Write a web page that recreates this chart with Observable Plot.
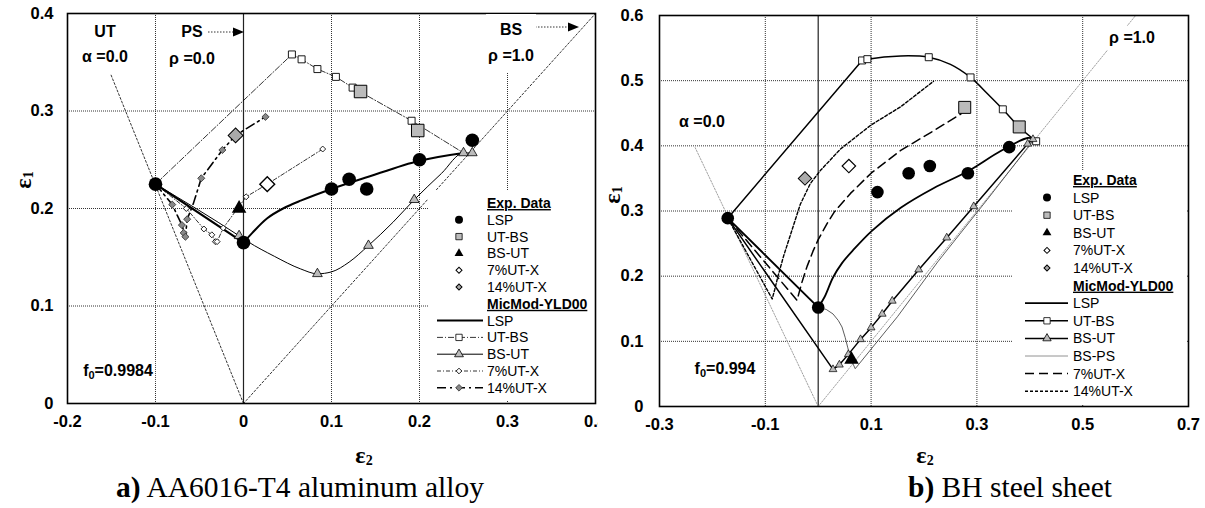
<!DOCTYPE html>
<html><head><meta charset="utf-8">
<script src="https://cdn.jsdelivr.net/npm/d3@7"></script>
<script src="https://cdn.jsdelivr.net/npm/@observablehq/plot@0.6"></script>
<style>
body{margin:0;background:#fff;}
#wrap{position:relative;width:1205px;height:508px;overflow:hidden;background:#fff;font-family:"Liberation Sans",Arial,sans-serif;}
.panel{position:absolute;top:0;}
.lbl{position:absolute;transform:translate(-50%,-50%);background:#fff;font-weight:bold;font-size:16px;color:#000;text-align:center;white-space:nowrap;padding:3px 2px;}
.lbl sub{font-size:11px;vertical-align:-3px;line-height:0;}
.axl{position:absolute;transform:translate(-50%,-50%);font-family:"Liberation Serif","Times New Roman",serif;font-weight:bold;font-size:24px;white-space:nowrap;line-height:1;}
.axl sub{font-size:14px;vertical-align:-2px;line-height:0;}
.cap{position:absolute;transform:translate(-50%,-50%);font-family:"Liberation Serif","Times New Roman",serif;font-size:29.5px;white-space:nowrap;}
</style></head><body><div id="wrap"></div><script>
// ---------------- Panel a) AA6016-T4 ----------------
const L_xTicks = [-0.2, -0.1, 0, 0.1, 0.2, 0.3, 0.4];
const L_yTicks = [0, 0.1, 0.2, 0.3, 0.4];
const L_xGrid = [-0.1, 0.1, 0.2, 0.3];
const L_yGrid = [0.1, 0.2, 0.3];
// reference strain paths
const L_utPath = [[0, 0], [-0.151, 0.338]];
const L_bsPath = [[0, 0], [0.4, 0.4]];
// experimental data
const L_exp_LSP = [[-0.1, 0.225], [0, 0.165], [0.1, 0.22], [0.12, 0.23], [0.14, 0.22], [0.2, 0.25], [0.26, 0.27]];
const L_exp_UTBS = [[0.133, 0.32], [0.198, 0.28]];
const L_exp_BSUT = [[-0.005, 0.2]];
const L_exp_7 = [[0.027, 0.225]];
const L_exp_14 = [[-0.009, 0.275]];
// MicMod-YLD00 predictions
const L_mod_LSP_a = [[-0.1, 0.225], [0, 0.165]];
const L_mod_LSP_b = [[0, 0.165], [0.01, 0.175], [0.027, 0.19], [0.045, 0.2], [0.065, 0.208], [0.1, 0.22], [0.14, 0.232], [0.2, 0.249], [0.25, 0.257]];
const L_mod_UTBS = [[-0.1, 0.225], [0.055, 0.358], [0.066, 0.353], [0.084, 0.343], [0.105, 0.335], [0.124, 0.324], [0.191, 0.29], [0.25, 0.257]];
const L_mod_BSUT = [[-0.1, 0.225], [-0.005, 0.172], [0.005, 0.166], [0.035, 0.151], [0.065, 0.138], [0.084, 0.133], [0.1, 0.135], [0.12, 0.145], [0.142, 0.162], [0.17, 0.186], [0.194, 0.209], [0.225, 0.236], [0.25, 0.257], [0.26, 0.257]];
const L_mod_BSUT_marks = [[-0.005, 0.172], [0.084, 0.133], [0.142, 0.162], [0.194, 0.209], [0.25, 0.257], [0.26, 0.257]];
const L_mod_7 = [[-0.1, 0.225], [-0.065, 0.2], [-0.045, 0.179], [-0.036, 0.173], [-0.032, 0.166], [-0.03, 0.166], [-0.023, 0.18], [0.003, 0.212], [0.027, 0.225], [0.09, 0.261]];
const L_mod_7_marks = [[-0.065, 0.2], [-0.045, 0.179], [-0.036, 0.173], [-0.032, 0.166], [-0.03, 0.166], [-0.023, 0.18], [0.003, 0.212], [0.09, 0.261]];
const L_mod_14 = [[-0.1, 0.225], [-0.081, 0.204], [-0.07, 0.183], [-0.066, 0.171], [-0.064, 0.189], [-0.057, 0.205], [-0.048, 0.231], [-0.024, 0.26], [-0.009, 0.275], [0.025, 0.294]];
const L_mod_14_marks = [[-0.081, 0.204], [-0.07, 0.183], [-0.068, 0.175], [-0.066, 0.171], [-0.064, 0.189], [-0.048, 0.231], [-0.024, 0.26], [0.025, 0.294]];

// ---------------- Panel b) BH steel ----------------
const R_xTicks = [-0.3, -0.1, 0.1, 0.3, 0.5, 0.7];
const R_yTicks = [0, 0.1, 0.2, 0.3, 0.4, 0.5, 0.6];
const R_xGrid = [-0.1, 0.1, 0.3, 0.5];
const R_yGrid = [0.1, 0.2, 0.3, 0.4, 0.5];
const R_alphaPath = [[0, 0], [-0.233, 0.398]];
const R_rhoPath = [[0, 0], [0.6, 0.6]];
const R_exp_LSP = [[-0.171, 0.289], [0, 0.152], [0.112, 0.329], [0.171, 0.358], [0.211, 0.369], [0.283, 0.358], [0.361, 0.398]];
const R_exp_UTBS = [[0.277, 0.459], [0.38, 0.429]];
const R_exp_BSUT = [[0.063, 0.072]];
const R_exp_7 = [[0.058, 0.369]];
const R_exp_14 = [[-0.025, 0.35]];
const R_mod_LSP_a = [[-0.171, 0.289], [0, 0.152]];
const R_mod_LSP_b = [[0, 0.152], [0.012, 0.168], [0.028, 0.198], [0.045, 0.22], [0.066, 0.24], [0.102, 0.27], [0.156, 0.305], [0.218, 0.335], [0.283, 0.361], [0.345, 0.392], [0.396, 0.412], [0.408, 0.41]];
const R_mod_UTBS_a = [[-0.171, 0.289], [0.083, 0.531]];
const R_mod_UTBS_b = [[0.083, 0.531], [0.093, 0.533], [0.156, 0.538], [0.209, 0.536], [0.25, 0.525], [0.288, 0.505], [0.32, 0.48], [0.349, 0.456], [0.38, 0.429], [0.412, 0.407]];
const R_mod_UTBS_marks = [[0.083, 0.531], [0.093, 0.533], [0.209, 0.536], [0.288, 0.505], [0.349, 0.456], [0.412, 0.407]];
const R_mod_BSUT = [[-0.171, 0.289], [0.028, 0.057], [0.04, 0.064], [0.057, 0.08], [0.08, 0.103], [0.1, 0.121], [0.121, 0.142], [0.14, 0.162], [0.19, 0.21], [0.243, 0.259], [0.294, 0.307], [0.396, 0.403], [0.406, 0.41]];
const R_mod_BSPS = [[0, 0.152], [0.015, 0.149], [0.028, 0.142], [0.038, 0.132], [0.045, 0.122], [0.051, 0.106], [0.056, 0.09], [0.062, 0.072], [0.07, 0.058], [0.15, 0.138], [0.226, 0.222], [0.32, 0.318], [0.408, 0.41]];
const R_mod_7 = [[-0.171, 0.289], [-0.04, 0.163], [-0.031, 0.19], [-0.021, 0.215], [-0.01, 0.238], [0, 0.256], [0.017, 0.281], [0.03, 0.298], [0.061, 0.327], [0.1, 0.358], [0.156, 0.393], [0.218, 0.423], [0.27, 0.449]];
const R_mod_14 = [[-0.171, 0.289], [-0.087, 0.165], [-0.082, 0.18], [-0.076, 0.2], [-0.065, 0.232], [-0.053, 0.262], [-0.034, 0.31], [-0.015, 0.342], [0.004, 0.362], [0.042, 0.395], [0.1, 0.432], [0.156, 0.46], [0.218, 0.499]];

// legend entries
const L_legendExp = ["LSP", "UT-BS", "BS-UT", "7%UT-X", "14%UT-X"];
const L_legendMod = ["LSP", "UT-BS", "BS-UT", "7%UT-X", "14%UT-X"];
const R_legendExp = ["LSP", "UT-BS", "BS-UT", "7%UT-X", "14%UT-X"];
const R_legendMod = ["LSP", "UT-BS", "BS-UT", "BS-PS", "7%UT-X", "14%UT-X"];

// ------------------------------------------------------------------
const wrap = document.getElementById("wrap");
const fmt = d => d === 0 ? "0" : d.toFixed(1);
const SQ = Math.sqrt(Math.PI);

function panel(o) {
  return Plot.plot({
    width: o.width, height: o.height,
    marginLeft: o.ml, marginRight: o.mr, marginTop: o.mt, marginBottom: o.mb,
    x: {domain: o.xd}, y: {domain: o.yd},
    style: {fontFamily: "'Liberation Sans', Arial, sans-serif", fontSize: "16.5px", fontWeight: "bold", background: "white", color: "black"},
    marks: [
      Plot.gridX(o.xg, {stroke: "#333", strokeOpacity: 1, strokeWidth: 1, strokeDasharray: "1,1"}),
      Plot.gridY(o.yg, {stroke: "#333", strokeOpacity: 1, strokeWidth: 1, strokeDasharray: "1,1"}),
      Plot.ruleX([0], {stroke: "#222", strokeWidth: 1.2}),
      ...o.marks,
      Plot.frame({stroke: "#000", strokeWidth: 1.6}),
      Plot.axisX(o.xt, {tickSize: 0, tickPadding: o.xpad, tickFormat: fmt, label: null}),
      Plot.axisY(o.yt, {tickSize: 0, tickPadding: o.ypad, tickFormat: fmt, label: null})
    ]
  });
}

const leftPlot = panel({
  width: 600, height: 440, ml: 67, mr: 5, mt: 13, mb: 37,
  xd: [-0.2, 0.4], yd: [0, 0.4], xt: L_xTicks, yt: L_yTicks, xg: L_xGrid, yg: L_yGrid, xpad: 12, ypad: 14,
  marks: [
    Plot.line(L_utPath, {stroke: "#000", strokeWidth: 0.8, strokeDasharray: "2,2"}),
    Plot.line(L_bsPath, {stroke: "#000", strokeWidth: 0.8, strokeDasharray: "2,2"}),
    Plot.line(L_mod_UTBS, {stroke: "#000", strokeWidth: 0.8, strokeDasharray: "6,2,1,2"}),
    Plot.line(L_mod_7, {stroke: "#000", strokeWidth: 0.8, strokeDasharray: "4,2,1,2"}),
    Plot.line(L_mod_14, {stroke: "#000", strokeWidth: 1.6, strokeDasharray: "9,4,2,4"}),
    Plot.line(L_mod_BSUT, {stroke: "#000", strokeWidth: 1, curve: "monotone-x"}),
    Plot.line(L_mod_LSP_a, {stroke: "#000", strokeWidth: 2.3}),
    Plot.line(L_mod_LSP_b, {stroke: "#000", strokeWidth: 2, curve: "catmull-rom"}),
    Plot.dot(L_mod_UTBS.slice(1, -1), {symbol: "square", r: 7 / SQ, fill: "white", stroke: "black", strokeWidth: 0.9}),
    Plot.dot(L_mod_BSUT_marks, {symbol: "triangle", r: 3.6, fill: "#bbb", stroke: "black", strokeWidth: 0.8}),
    Plot.dot(L_mod_7_marks, {symbol: "square", rotate: 45, r: 4.2 / SQ, fill: "white", stroke: "black", strokeWidth: 0.8}),
    Plot.dot(L_mod_14_marks, {symbol: "square", rotate: 45, r: 5 / SQ, fill: "#888", stroke: "#333", strokeWidth: 0.8}),
    Plot.dot(L_exp_UTBS, {symbol: "square", r: 12.5 / SQ, fill: "#bbb", stroke: "black", strokeWidth: 1}),
    Plot.dot(L_exp_7, {symbol: "square", rotate: 45, r: 10.5 / SQ, fill: "white", stroke: "black", strokeWidth: 1.4}),
    Plot.dot(L_exp_14, {symbol: "square", rotate: 45, r: 10.5 / SQ, fill: "#aaa", stroke: "black", strokeWidth: 1}),
    Plot.dot(L_exp_BSUT, {symbol: "triangle", r: 5.4, fill: "black"}),
    Plot.dot(L_exp_LSP, {r: 6.8, fill: "black"})
  ]
});
leftPlot.classList.add("panel"); leftPlot.style.left = "0px";
wrap.appendChild(leftPlot);

const rightPlot = panel({
  width: 607, height: 440, ml: 61, mr: 17, mt: 15, mb: 34,
  xd: [-0.3, 0.7], yd: [0, 0.6], xt: R_xTicks, yt: R_yTicks, xg: R_xGrid, yg: R_yGrid, xpad: 12, ypad: 16,
  marks: [
    Plot.line(R_alphaPath, {stroke: "#888", strokeWidth: 0.8, strokeDasharray: "1.5,1.5"}),
    Plot.line(R_rhoPath, {stroke: "#888", strokeWidth: 0.8, strokeDasharray: "1.5,1.5"}),
    Plot.line(R_mod_BSPS, {stroke: "#333", strokeWidth: 0.8, curve: "linear"}),
    Plot.line(R_mod_14, {stroke: "#000", strokeWidth: 1.4, strokeDasharray: "3,2"}),
    Plot.line(R_mod_7, {stroke: "#000", strokeWidth: 1.5, strokeDasharray: "9,5"}),
    Plot.line(R_mod_BSUT, {stroke: "#000", strokeWidth: 1.5}),
    Plot.line(R_mod_UTBS_a, {stroke: "#000", strokeWidth: 1.5}),
    Plot.line(R_mod_UTBS_b, {stroke: "#000", strokeWidth: 1.5, curve: "catmull-rom"}),
    Plot.line(R_mod_LSP_a, {stroke: "#000", strokeWidth: 1.9}),
    Plot.line(R_mod_LSP_b, {stroke: "#000", strokeWidth: 1.8, curve: "catmull-rom"}),
    Plot.dot(R_mod_UTBS_marks, {symbol: "square", r: 7 / SQ, fill: "white", stroke: "black", strokeWidth: 0.9}),
    Plot.dot(R_mod_BSUT.slice(1), {symbol: "triangle", r: 2.9, fill: "#bbb", stroke: "black", strokeWidth: 0.7}),
    Plot.dot(R_exp_UTBS, {symbol: "square", r: 12 / SQ, fill: "#bbb", stroke: "black", strokeWidth: 1}),
    Plot.dot(R_exp_7, {symbol: "square", rotate: 45, r: 9.5 / SQ, fill: "white", stroke: "black", strokeWidth: 1.2}),
    Plot.dot(R_exp_14, {symbol: "square", rotate: 45, r: 9.5 / SQ, fill: "#aaa", stroke: "black", strokeWidth: 1}),
    Plot.dot(R_exp_BSUT, {symbol: "triangle", r: 5.4, fill: "black"}),
    Plot.dot(R_exp_LSP, {r: 6.3, fill: "black"})
  ]
});
rightPlot.classList.add("panel"); rightPlot.style.left = "598px";
wrap.appendChild(rightPlot);

// ---------------- overlay: legends and arrows ----------------
const ov = d3.select(wrap).append("svg")
  .attr("width", 1205).attr("height", 508)
  .style("position", "absolute").style("left", 0).style("top", 0)
  .style("font-family", "'Liberation Sans', Arial, sans-serif");

function sym(g, s, x, y) {
  const t = {circle: d3.symbolCircle, square: d3.symbolSquare, triangle: d3.symbolTriangle, diamond: d3.symbolSquare}[s.type];
  g.append("path").attr("d", d3.symbol().type(t).size(s.size)())
    .attr("transform", `translate(${x},${y})` + (s.type === "diamond" ? " rotate(45)" : ""))
    .attr("fill", s.fill).attr("stroke", s.stroke || "none").attr("stroke-width", s.sw || 0.8);
}

function legend(o) {
  const g = ov.append("g");
  g.append("rect").attr("x", o.box[0]).attr("y", o.box[1]).attr("width", o.box[2] - o.box[0]).attr("height", o.box[3] - o.box[1]).attr("fill", "white");
  o.rows.forEach(r => {
    const t = g.append("text").attr("x", o.tx).attr("y", r.y).attr("dy", "0.36em")
      .attr("font-size", 14).text(r.text);
    if (r.header) t.attr("font-weight", "bold").attr("text-decoration", "underline");
    if (r.line) g.append("line").attr("x1", o.l0).attr("x2", o.l1).attr("y1", r.y).attr("y2", r.y)
      .attr("stroke", r.line.c || "#000").attr("stroke-width", r.line.w).attr("stroke-dasharray", r.line.dash || null);
    if (r.sym) sym(g, r.sym, o.mx, r.y);
  });
}

const expSyms = [
  {type: "circle", size: 50, fill: "#000"},
  {type: "square", size: 40, fill: "#bbb", stroke: "#000"},
  {type: "triangle", size: 34, fill: "#000"},
  {type: "diamond", size: 18, fill: "#fff", stroke: "#000", sw: 1},
  {type: "diamond", size: 18, fill: "#aaa", stroke: "#000", sw: 1}
];
const L_modStyles = [
  {line: {w: 2}},
  {line: {w: 0.8, dash: "6,2,1,2"}, sym: {type: "square", size: 40, fill: "#fff", stroke: "#000"}},
  {line: {w: 1}, sym: {type: "triangle", size: 34, fill: "#bbb", stroke: "#000"}},
  {line: {w: 0.8, dash: "4,2,1,2"}, sym: {type: "diamond", size: 16, fill: "#fff", stroke: "#000"}},
  {line: {w: 1.6, dash: "9,4,2,4"}, sym: {type: "diamond", size: 22, fill: "#888", stroke: "#333"}}
];
const R_modStyles = [
  {line: {w: 1.8}},
  {line: {w: 1.5}, sym: {type: "square", size: 40, fill: "#fff", stroke: "#000"}},
  {line: {w: 1.5}, sym: {type: "triangle", size: 30, fill: "#bbb", stroke: "#000"}},
  {line: {w: 0.8, c: "#777"}},
  {line: {w: 1.5, dash: "9,5"}},
  {line: {w: 1.4, dash: "3,2"}}
];

function buildRows(y0, step, exp, mod, modStyles) {
  const rows = [{y: y0, text: "Exp. Data", header: true}];
  exp.forEach((t, i) => rows.push({y: y0 + step * (i + 1), text: t, sym: expSyms[i]}));
  const y1 = y0 + step * (exp.length + 1);
  rows.push({y: y1, text: "MicMod-YLD00", header: true});
  mod.forEach((t, i) => rows.push({y: y1 + step * (i + 1), text: t, ...modStyles[i]}));
  return rows;
}

legend({box: [428, 190, 594, 401], tx: 487, mx: 459, l0: 437, l1: 483,
  rows: buildRows(203, 16.8, L_legendExp, L_legendMod, L_modStyles)});
legend({box: [1013, 170, 1187, 404], tx: 1073, mx: 1047, l0: 1025, l1: 1068,
  rows: buildRows(180, 17.6, R_legendExp, R_legendMod, R_modStyles)});

// arrows (PS and BS)
[[208, 233, 32], [535, 568, 27]].forEach(([a, b, y]) => {
  ov.append("line").attr("x1", a).attr("x2", b).attr("y1", y).attr("y2", y)
    .attr("stroke", "#000").attr("stroke-width", 0.8).attr("stroke-dasharray", "1.5,1.5");
  ov.append("path").attr("d", `M${b},${y - 4.5}L${b + 11},${y}L${b},${y + 4.5}Z`).attr("fill", "#000");
});

// ---------------- text labels ----------------
function put(cls, html, cx, cy) {
  const d = document.createElement("div");
  d.className = cls; d.innerHTML = html;
  d.style.left = cx + "px"; d.style.top = cy + "px";
  wrap.appendChild(d);
  return d;
}
put("lbl", "UT<br>α =0.0", 105, 44).style.lineHeight = "25px";
put("lbl", "PS", 192, 32);
put("lbl", "ρ =0.0", 192, 59);
put("lbl", "BS<br>ρ =1.0", 511, 43).style.lineHeight = "26px";
put("lbl", "f<sub>0</sub>=0.9984", 118, 371);
put("lbl", "α =0.0", 702, 122);
put("lbl", "ρ =1.0", 1132, 38);
put("lbl", "f<sub>0</sub>=0.994", 725, 369);
const yl1 = put("axl", "ε<sub>1</sub>", 23, 180); yl1.style.transform = "translate(-50%,-50%) rotate(-90deg)";
const yl2 = put("axl", "ε<sub>1</sub>", 612, 195); yl2.style.transform = "translate(-50%,-50%) rotate(-90deg)";
put("axl", "ε<sub>2</sub>", 364, 455);
put("axl", "ε<sub>2</sub>", 925, 455);
put("cap", "<b>a)</b> AA6016-T4 aluminum alloy", 300, 487);
put("cap", "<b>b)</b> BH steel sheet", 1010, 487);
</script></body></html>
